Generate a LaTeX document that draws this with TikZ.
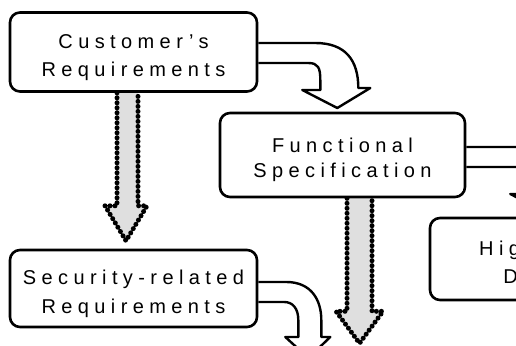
\documentclass[tikz,border=0pt]{standalone}
\usepackage{fontspec}
\setmainfont{Liberation Sans}[LetterSpace=27]
\usetikzlibrary{calc,backgrounds}
\newcommand\boxstrut{\rule{0pt}{25pt}}
\tikzset{
  stagebox/.style={draw, line width=2.6pt, rounded corners=10pt, fill=white,
    align=center, inner sep=0pt, font=\fontsize{20}{28.5}\selectfont},
  flowarrow/.style={draw, line width=2.4pt, fill=white, line join=round},
  hatcharrow/.style={fill=gray!25, draw=black, line width=5pt,
    dash pattern=on 0pt off 5pt, line cap=round, line join=round},
}
\begin{document}
\begin{tikzpicture}[x=1pt,y=-1pt]
\clip (0,0) rectangle (516,345);
% boxes
\node[stagebox, minimum width=247pt, minimum height=79pt] (cr) at (133.5,52) {\boxstrut Customer's\\Requirements};
\node[stagebox, minimum width=245pt, minimum height=84pt] (fs) at (342.5,155) {\boxstrut Functional\\[-3.5pt]Specification};
\node[stagebox, minimum width=247pt, minimum height=77pt] (sr) at (133.5,288.5) {\boxstrut Security-related\\Requirements};
\node[stagebox, minimum width=236pt, minimum height=82pt] (hd) at (548,259) {\boxstrut High-level\\Design};
\begin{pgfonlayer}{background}
\fill[white] (0,0) rectangle (516,345);
% outlined bent arrows
\draw[flowarrow] ($(cr.east)+(0,-9)$) -- ++(57,0)
  .. controls +(30,0) and +(0,-28) .. ++(43,45)
  -- ++(12,0) -- ++(-33,20) -- ++(-35,-18) -- ++(18,0) -- ++(0,-10)
  .. controls +(0,-12) and +(10,0) .. ++(-12,-17) -- ($(cr.east)+(0,11)$);
\draw[flowarrow] ($(fs.east)+(0,-8)$) -- ++(57,0)
  .. controls +(30,0) and +(0,-28) .. ++(43,45)
  -- ++(12,0) -- ++(-33,20) -- ++(-35,-18) -- ++(18,0) -- ++(0,-10)
  .. controls +(0,-12) and +(10,0) .. ++(-12,-17) -- ($(fs.east)+(0,12)$);
\draw[flowarrow] ($(sr.east)+(0,-6.5)$) -- ++(28,0)
  .. controls +(25,0) and +(0,-20) .. ++(35,38)
  -- ++(0,17) -- ++(9,0) -- ++(-22,21) -- ++(-23,-21) -- ++(13,0) -- ++(0,-17)
  .. controls +(0,-12) and +(8,0) .. ++(-14,-18) -- ($(sr.east)+(0,13.5)$);
% stippled arrows
\draw[hatcharrow] ($(cr.south)+(-16.5,0)$) -- ++(0,113) -- ++(-12,0) -- ++(21,35)
  -- ++(21,-35) -- ++(-9,0) -- ($(cr.south)+(4.5,0)$);
\draw[hatcharrow] ($(fs.south)+(4.5,0)$) -- ++(0,113) -- ++(-11,0) -- ++(23.5,32)
  -- ++(23.5,-32) -- ++(-11,0) -- ($(fs.south)+(29.5,0)$);
\end{pgfonlayer}
\end{tikzpicture}
\end{document}
